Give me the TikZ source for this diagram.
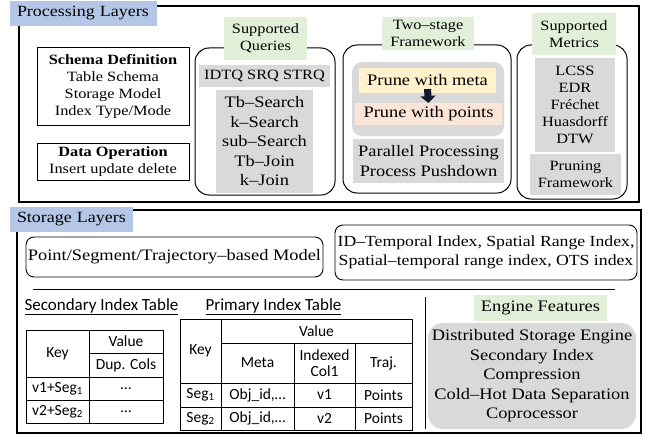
\documentclass[tikz,border=0pt]{standalone}
\usepackage{fontspec}
\setmainfont[FakeStretch=1.15]{Liberation Serif}
\newfontfamily\calfont{Carlito}
\usetikzlibrary{arrows.meta,calc}
\definecolor{lblue}{HTML}{B4C7E7}
\definecolor{lgreen}{HTML}{E2F0D9}
\definecolor{lgray}{HTML}{D9D9D9}
\definecolor{lyellow}{HTML}{FFF2CC}
\definecolor{lpeach}{HTML}{FBE5D6}
\definecolor{navy}{HTML}{111A2E}
\newcommand\mybox[7][]{\node[#1, minimum width={(#5)-(#3)}, minimum height={(#6)-(#4)}, inner sep=0pt, outer sep=0pt] (#2) at ({((#3)+(#5))/2},{((#4)+(#6))/2}) {#7};}
\tikzset{
 sm/.style={font=\fontsize{14.2}{17}\selectfont, align=center},
 lg/.style={font=\fontsize{16}{19.5}\selectfont, align=center},
 lgb/.style={font=\fontsize{15.4}{19}\selectfont, align=center},
 outerbox/.style={draw=black, line width=1.4pt},
 pbox/.style={draw=black, line width=1pt},
 rbox/.style={draw=black, line width=1pt, rounded corners=14pt},
 sbox/.style={draw=black, line width=0.9pt, rounded corners=8pt},
 grayfill/.style={fill=lgray},
 tagbox/.style={fill=lgreen},
 layer/.style={fill=lblue, font=\fontsize{15.6}{18}\selectfont, align=left, text width=#1, inner xsep=7pt, inner ysep=0pt, minimum height=25pt, anchor=west, outer sep=0pt},
 tcell/.style={draw=black, line width=0.8pt, font=\calfont\fontsize{15.5}{16.5}\selectfont, align=center},
 ttitle/.style={font=\calfont\fontsize{17}{19}\selectfont},
}
\begin{document}
\begin{tikzpicture}[x=1pt,y=-1pt]
\useasboundingbox (0,0) rectangle (652,436);
% ---------- Processing layers ----------
\mybox[outerbox]{proc}{19}{6}{639}{202}{}
\node[layer=133pt] (proclbl) at (10,13.5) {Processing Layers};

\mybox[pbox, sm]{schema}{37}{48}{189}{125}{\textbf{Schema Definition}\\Table Schema\\Storage Model\\Index Type/Mode}
\mybox[pbox, sm]{dataop}{37}{143}{189}{180}{\textbf{Data Operation}\\Insert update delete}

\mybox[rbox]{sq}{195}{48}{335}{195}{}
\mybox[tagbox, sm]{sqlbl}{224}{17}{307}{60}{Supported\\Queries}
\mybox[grayfill, sm]{idtq}{199}{65}{330}{87}{IDTQ SRQ STRQ}
\mybox[grayfill, lg]{tbl}{216}{90}{313}{193}{Tb–Search\\k–Search\\sub–Search\\Tb–Join\\k–Join}

\mybox[rbox]{ts}{343}{45}{511}{193}{}
\mybox[tagbox, sm]{tslbl}{382}{17}{474}{50}{Two–stage\\Framework}
\mybox[grayfill, rounded corners=10pt]{tsin}{352}{62}{504}{136}{}
\mybox[fill=lyellow, lg]{meta}{359}{68}{496}{93}{Prune with meta}
\mybox[fill=lpeach, lg]{pts}{355}{103}{502}{125}{Prune with points}
\draw[navy, line width=7pt, -{Triangle[width=15pt,length=7pt]}] ($(meta.south)+(0,-4)$) -- (pts.north);
\mybox[grayfill, lg]{par}{353}{139}{504}{183}{Parallel Processing\\Process Pushdown}

\mybox[rbox]{smx}{517}{45}{627}{199}{}
\mybox[tagbox, sm]{smlbl}{532}{13}{616}{55}{Supported\\Metrics}
\mybox[grayfill, sm]{metrics}{535}{58}{615}{152}{LCSS\\EDR\\Fréchet\\Huasdorff\\DTW}
\mybox[grayfill, sm]{prun}{530}{154}{621}{195}{Pruning\\Framework}

% ---------- Storage layers ----------
\mybox[outerbox]{stor}{17}{210}{641}{433}{}
\node[layer=109pt] (storlbl) at (10,219) {Storage Layers};

\mybox[sbox, lg]{model}{26}{237}{323}{277}{Point/Segment/Trajectory–based Model}
\mybox[sbox, lgb]{index}{335}{225}{637}{280}{ID–Temporal Index, Spatial Range Index,\\Spatial–temporal range index, OTS index}
\draw[line width=1pt] (33,289) -- (615,289);
\draw[line width=1pt] (425,297) -- (425,429);

\node[ttitle] (sectitle) at (101.5,307) {\underline{Secondary Index Table}};
\node[ttitle] (pritle) at (273.5,307) {\underline{Primary Index Table}};

\mybox[tcell]{skey}{26}{330}{89}{377}{Key}
\mybox[tcell]{sval}{89}{330}{163}{353}{Value}
\mybox[tcell]{sdup}{89}{353}{163}{377}{Dup. Cols}
\mybox[tcell]{sk1}{26}{377}{89}{400}{v1+Seg\textsubscript{1}}
\mybox[tcell]{sv1}{89}{377}{163}{400}{…}
\mybox[tcell]{sk2}{26}{400}{89}{423}{v2+Seg\textsubscript{2}}
\mybox[tcell]{sv2}{89}{400}{163}{423}{…}

\mybox[tcell]{pkey}{180}{319}{221}{383}{Key}
\mybox[tcell]{pval}{221}{319}{412}{343}{Value}
\mybox[tcell]{pmeta}{221}{343}{294}{383}{Meta}
\mybox[tcell]{pidx}{294}{343}{355}{383}{Indexed\\Col1}
\mybox[tcell]{ptraj}{355}{343}{412}{383}{Traj.}
\mybox[tcell]{pk1}{180}{383}{221}{407}{Seg\textsubscript{1}}
\mybox[tcell]{pm1}{221}{383}{294}{407}{Obj\_id,…}
\mybox[tcell]{pi1}{294}{383}{355}{407}{v1}
\mybox[tcell]{pt1}{355}{383}{412}{407}{Points}
\mybox[tcell]{pk2}{180}{407}{221}{430}{Seg\textsubscript{2}}
\mybox[tcell]{pm2}{221}{407}{294}{430}{Obj\_id,…}
\mybox[tcell]{pi2}{294}{407}{355}{430}{v2}
\mybox[tcell]{pt2}{355}{407}{412}{430}{Points}

\mybox[tagbox, lg]{eflbl}{474}{295}{607}{321}{Engine Features}
\mybox[grayfill, rounded corners=15pt, lg]{engine}{428}{323}{636}{429}{Distributed Storage Engine\\Secondary Index\\Compression\\Cold–Hot Data Separation\\Coprocessor}
\end{tikzpicture}
\end{document}
